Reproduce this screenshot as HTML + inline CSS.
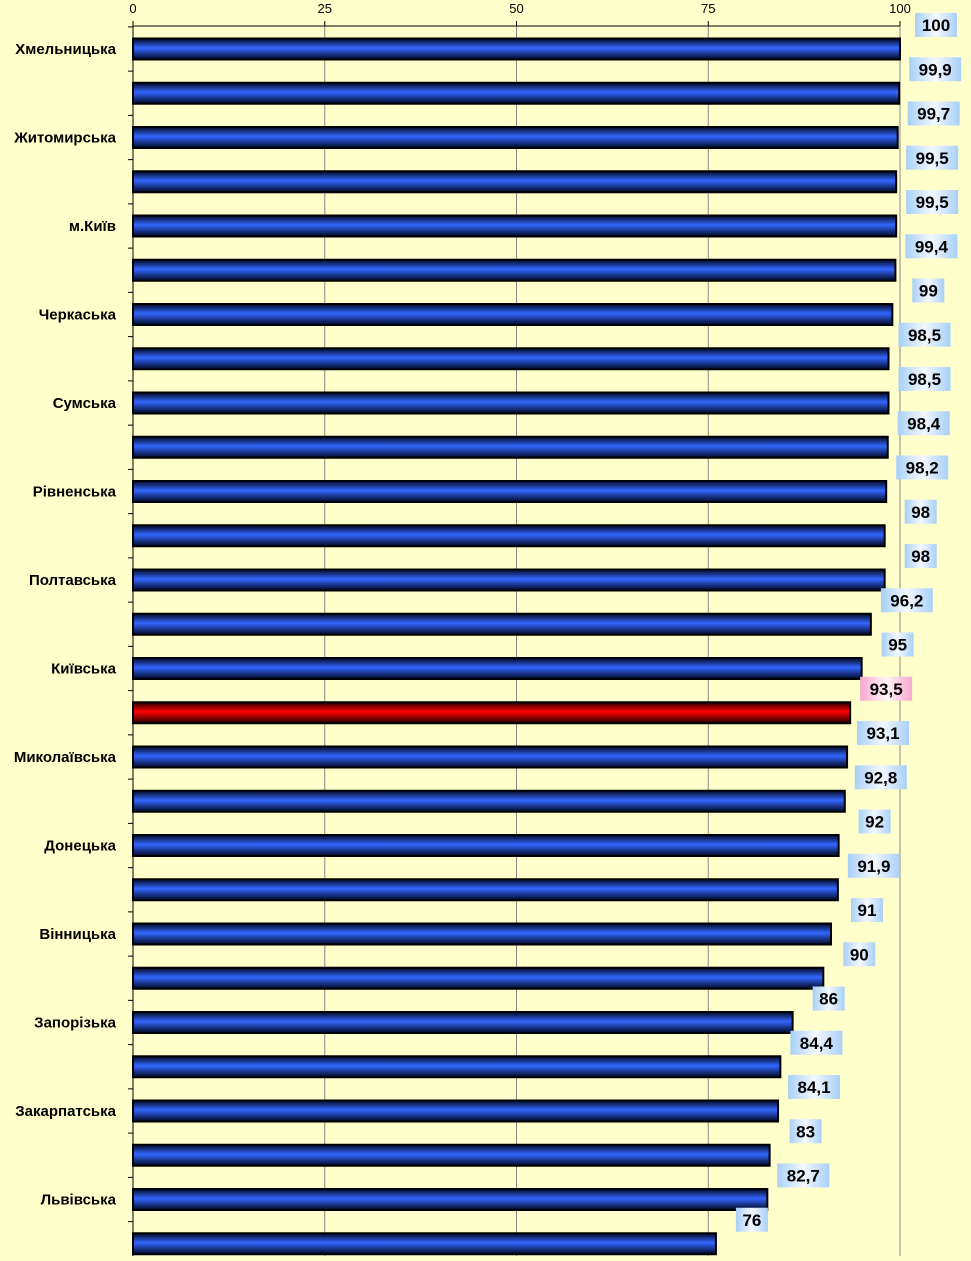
<!DOCTYPE html>
<html><head><meta charset="utf-8"><style>
html,body{margin:0;padding:0;background:#ffffcc;}
svg text{font-family:"Liberation Sans",sans-serif;}
</style></head><body>
<svg id="chart" width="971" height="1256" xmlns="http://www.w3.org/2000/svg">
<defs>
<linearGradient id="gb" x1="0" y1="0" x2="0" y2="1"><stop offset="0" stop-color="#000820"/><stop offset="0.45" stop-color="#3366ff"/><stop offset="1" stop-color="#000820"/></linearGradient>
<linearGradient id="gr" x1="0" y1="0" x2="0" y2="1"><stop offset="0" stop-color="#200000"/><stop offset="0.45" stop-color="#ff0000"/><stop offset="1" stop-color="#200000"/></linearGradient>
<linearGradient id="lb" x1="0" y1="0" x2="1" y2="0"><stop offset="0" stop-color="#a8d0f8"/><stop offset="0.5" stop-color="#f4f8ff"/><stop offset="1" stop-color="#a8d0f8"/></linearGradient>
<linearGradient id="lp" x1="0" y1="0" x2="1" y2="0"><stop offset="0" stop-color="#f8a8d0"/><stop offset="0.5" stop-color="#fff4f8"/><stop offset="1" stop-color="#f8a8d0"/></linearGradient>
</defs>
<rect width="971" height="1256" fill="#ffffcc"/>
<g id="grid"></g><g id="bars"></g><g id="labels"></g>
</svg>
<script>
const categories=["Хмельницька","","Житомирська","","м.Київ","","Черкаська","","Сумська","","Рівненська","","Полтавська","","Київська","","Миколаївська","","Донецька","","Вінницька","","Запорізька","","Закарпатська","","Львівська",""];
const values=[100,99.9,99.7,99.5,99.5,99.4,99,98.5,98.5,98.4,98.2,98,98,96.2,95,93.5,93.1,92.8,92,91.9,91,90,86,84.4,84.1,83,82.7,76];
const highlightIndex=[15];
const ticks=[0,25,50,75,100];
const NS="http://www.w3.org/2000/svg";
const x0=133,x1=900,top0=26,step=44.25,firstC=49;
const xs=v=>x0+(x1-x0)*v/100;
const yc=i=>firstC+i*step;
function mk(t,a,p){const e=document.createElementNS(NS,t);for(const k in a)e.setAttribute(k,a[k]);p.appendChild(e);return e;}
const grid=document.getElementById('grid'),bars=document.getElementById('bars'),labels=document.getElementById('labels');
ticks.forEach(t=>{
  const g=mk('line',{x1:xs(t),x2:xs(t),y1:top0,y2:1256,stroke:t===0?'#000':'#888','stroke-width':1},grid);
  
  
  const tk=mk('line',{x1:xs(t),x2:xs(t),y1:top0-5,y2:top0,stroke:'#000'},grid);
  
  
  const tl=mk('text',{x:xs(t),y:13,'text-anchor':'middle','font-size':13},grid);
  tl.textContent=t;
  
  
});
const ax=mk('line',{x1:x0,x2:x1,y1:top0,y2:top0,stroke:'#000'},grid);


for(let i=0;i<=values.length;i++){
  const y=firstC-step/2+i*step;
  const t=mk('line',{x1:x0-5,x2:x0,y1:y,y2:y,stroke:'#000'},grid);
  
  
}
values.forEach((v,i)=>{
  const hi=highlightIndex.includes(i);
  const b=mk('rect',{x:x0,y:yc(i)-10.5,width:xs(v)-x0,height:21,fill:hi?'url(#gr)':'url(#gb)',stroke:'#000','stroke-width':2},bars);
  
  
  if(categories[i]){
    const c=mk('text',{x:116,y:yc(i)+5,'text-anchor':'end','font-size':15,'font-weight':'bold'},labels);
    c.textContent=categories[i];
    
    
  }
  const s=String(v).replace('.',',');
  const w=s.length*10+12;
  const cx=xs(v)+36,cy=yc(i)-24;
  const bx=mk('rect',{x:cx-w/2,y:cy-12,width:w,height:24,fill:hi?'url(#lp)':'url(#lb)'},labels);
  
  
  const tx=mk('text',{x:cx,y:cy+6,'text-anchor':'middle','font-size':17,'font-weight':'bold'},labels);
  tx.textContent=s;
  
  
});
</script>
</body></html>
